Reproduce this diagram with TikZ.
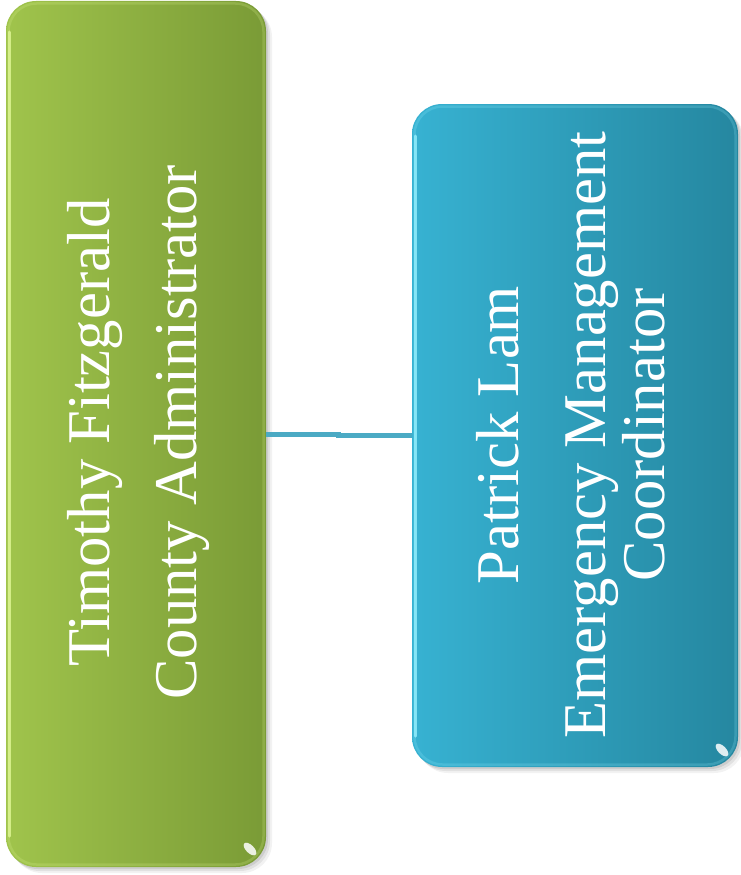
\documentclass[tikz,border=0pt]{standalone}
\usepackage{fontspec}
\setmainfont{Liberation Serif}
\definecolor{greenL}{RGB}{160,196,76}
\definecolor{greenR}{RGB}{122,155,54}
\definecolor{greenHi}{RGB}{225,248,150}
\definecolor{blueL}{RGB}{55,178,210}
\definecolor{blueR}{RGB}{37,135,160}
\definecolor{blueHi}{RGB}{150,240,255}
\definecolor{linkblue}{RGB}{75,170,196}
\begin{document}
\begin{tikzpicture}[x=1pt,y=-1pt,
  card/.style={rounded corners=30pt, draw=none, inner sep=0pt, outer sep=0pt},
  vlabel/.style={rotate=90, anchor=base, text=white, inner sep=0pt,
    font=\fontsize{60.7}{62}\selectfont},
  rim/.style={rounded corners=28pt, line width=2.5pt, opacity=0.2},
  shadowbox/.style={fill=black, rounded corners=30pt},
  link/.style={draw=linkblue, line width=5pt}]
\useasboundingbox (0,0) rectangle (740,875);

% soft drop shadows
\foreach \o/\op in {6/0.05,4/0.07,2/0.09} {
  \fill[shadowbox, opacity=\op] (6+\o,1+\o) rectangle (266+\o,867+\o);
  \fill[shadowbox, opacity=\op] (412+\o,104+\o) rectangle (738+\o,767+\o);
}

% the two cards
\node[card, left color=greenL, right color=greenR,
      minimum width=260pt, minimum height=866pt] (tim) at (136,434) {};
\node[card, left color=blueL, right color=blueR,
      minimum width=326pt, minimum height=663pt] (pat) at (575,435.5) {};

% bevel highlights
\draw[rim, greenHi] (8.5,3.5) rectangle (263.5,864.5);
\draw[greenHi, line width=3pt, opacity=0.8, line cap=round] (9.5,32) -- (9.5,836);
\fill[white, opacity=0.85, rotate around={-45:(250,849)}] (250,849) ellipse (8pt and 4pt);
\draw[rim, blueHi] (414.5,106.5) rectangle (735.5,764.5);
\draw[blueHi, line width=3pt, opacity=0.8, line cap=round] (415.5,136) -- (415.5,736);
\fill[white, opacity=0.85, rotate around={-45:(722,750)}] (722,750) ellipse (8pt and 4pt);

% connector
\draw[link] (tim.east) -- ++(72,0) |- (pat.west);

% labels
\node[vlabel] (timname) at (109,432.5) {Timothy Fitzgerald};
\node[vlabel] (timrole) at (196,432.5) {County Administrator};
\node[vlabel] (patname) at (518,435) {Patrick Lam};
\node[vlabel] (patrole1) at (605,435) {Emergency Management};
\node[vlabel] (patrole2) at (664,435) {Coordinator};
\end{tikzpicture}
\end{document}
